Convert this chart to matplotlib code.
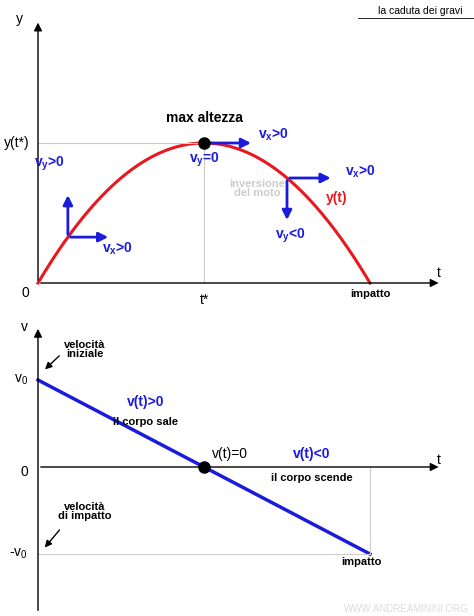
import numpy as np
import matplotlib
matplotlib.use("Agg")
import matplotlib.pyplot as plt
plt.rcParams['font.family'] = ['Liberation Sans', 'DejaVu Sans']
plt.rcParams['mathtext.fontset'] = 'custom'
plt.rcParams['mathtext.rm'] = 'Liberation Sans'
plt.rcParams['mathtext.bf'] = 'Liberation Sans:bold'

W, H = 474, 616
t_peak = 1.0
t_imp = 2.0
y_max = 1.0
v0 = 1.0
t_marks = [0.18, 1.0, 1.5]

fig = plt.figure(figsize=(W/100, H/100), dpi=100)
sx = 2/332
ax1 = fig.add_axes([0, 1-300/H, 1, 300/H])
ax1.set_xlim(-38*sx, (W-38)*sx)
ax1.set_ylim(-(300-283)/140, 283/140)
ax1.axis('off')
ax2 = fig.add_axes([0, 0, 1, 316/H])
ax2.set_xlim(-38*sx, (W-38)*sx)
ax2.set_ylim(-(616-467)/87, (467-300)/87)
ax2.axis('off')

ak = dict(arrowstyle='-|>', color='black', lw=1, mutation_scale=12)
for ax, ytop, ybot in [(ax1, 1.88, 0), (ax2, 1.62, -1.68)]:
    ax.annotate('', xy=(0, ytop), xytext=(0, ybot), arrowprops=ak)
    ax.annotate('', xy=(2.43, 0), xytext=(0, 0), arrowprops=ak)

t = np.linspace(0, t_imp, 200)
y = y_max*(1-((t-t_peak)/t_peak)**2)
ax1.plot(t, y, color='#e8181e', lw=2.2)
ax1.plot([0, t_peak], [y_max]*2, color='#cccccc', lw=0.8)
ax1.plot([t_peak]*2, [0, y_max], color='#cccccc', lw=0.8)
ax1.plot(t_peak, y_max, 'o', color='black', ms=8, zorder=5)

bk = dict(arrowstyle='-|>', color='#1b1bdc', lw=2, mutation_scale=14)
f = lambda tt: y_max*(1-((tt-t_peak)/t_peak)**2)
ta = t_marks[0]; ya = f(ta)
ax1.annotate('', xy=(ta, ya+0.32), xytext=(ta, ya), arrowprops=bk)
ax1.annotate('', xy=(ta+0.26, ya), xytext=(ta, ya), arrowprops=bk)
ax1.annotate('', xy=(t_peak+0.3, y_max), xytext=(t_peak, y_max), arrowprops=bk)
tb = t_marks[2]; yb = f(tb)
ax1.annotate('', xy=(tb+0.28, yb), xytext=(tb, yb), arrowprops=bk)
ax1.annotate('', xy=(tb, yb-0.32), xytext=(tb, yb), arrowprops=bk)

blue = '#1b1bdc'
fs = 10
B = dict(color=blue, fontsize=fs, fontweight='bold', ha='center')
ax1.text(0.07, 0.83, r'v$_\mathbf{y}$>0', **B)
ax1.text(0.48, 0.22, r'v$_\mathbf{x}$>0', **B)
ax1.text(1.0, 0.86, r'v$_\mathbf{y}$=0', **B)
ax1.text(1.42, 1.03, r'v$_\mathbf{x}$>0', **B)
ax1.text(1.94, 0.77, r'v$_\mathbf{x}$>0', **B)
ax1.text(1.52, 0.32, r'v$_\mathbf{y}$<0', **B)
ax1.text(1.8, 0.58, 'y(t)', color='#e8181e', fontsize=fs, fontweight='bold', ha='center')
ax1.text(1.0, 1.15, 'max altezza', fontsize=10, fontweight='bold', ha='center')
ax1.text(1.32, 0.62, 'inversione\ndel moto', color='#cccccc', fontsize=8, fontweight='bold', ha='center', linespacing=0.9)
ax1.text(2.0, -0.1, 'impatto', fontsize=8, fontweight='bold', ha='center')
ax1.text(1.0, -0.15, 't*', fontsize=10, ha='center')
ax1.text(-0.05, -0.1, '0', fontsize=10, ha='right')
ax1.text(-0.205, 1.0, 'y(t*)', fontsize=10, ha='left', va='center')
ax1.text(-0.13, 1.86, 'y', fontsize=10)
ax1.text(2.4, 0.04, 't', fontsize=10)
ax1.text(2.3, 1.92, 'la caduta dei gravi', fontsize=7.5, ha='center')
ax1.plot([1.93, 2.66], [1.895]*2, color='black', lw=0.6)

tv = np.array([0, t_imp])
vv = v0*(1-tv/t_peak)
ax2.plot(tv, vv, color=blue, lw=2.5)
ax2.plot(t_peak, 0, 'o', color='black', ms=8, zorder=5)
ax2.plot([0, 2.0], [-v0]*2, color='#cccccc', lw=0.8)
ax2.plot([2.0]*2, [0, -v0], color='#cccccc', lw=0.8)
ax2.text(-0.06, 1.56, 'v', fontsize=10, ha='right')
ax2.text(2.4, 0.04, 't', fontsize=10)
ax2.text(-0.06, 1.0, r'v$_0$', fontsize=10, ha='right', va='center')
ax2.text(-0.06, -0.1, '0', fontsize=10, ha='right')
ax2.text(-0.06, -1.0, r'-v$_0$', fontsize=10, ha='right', va='center')
ax2.text(1.05, 0.1, 'v(t)=0', fontsize=10)
ax2.text(0.65, 0.7, 'v(t)>0', color=blue, fontsize=10, fontweight='bold', ha='center')
ax2.text(0.65, 0.48, 'il corpo sale', fontsize=8, fontweight='bold', ha='center')
ax2.text(1.65, 0.1, 'v(t)<0', color=blue, fontsize=10, fontweight='bold', ha='center')
ax2.text(1.65, -0.16, 'il corpo scende', fontsize=8, fontweight='bold', ha='center')
ax2.text(1.95, -1.13, 'impatto', fontsize=8, fontweight='bold', ha='center')
ax2.text(0.28, 1.26, 'velocità\niniziale', fontsize=8, fontweight='bold', ha='center', linespacing=0.9)
ax2.text(0.28, -0.6, 'velocità\ndi impatto', fontsize=8, fontweight='bold', ha='center', linespacing=0.9)
ak2 = dict(arrowstyle='-|>', color='black', lw=1, mutation_scale=10)
ax2.annotate('', xy=(0.03, 1.1), xytext=(0.14, 1.3), arrowprops=ak2)
ax2.annotate('', xy=(0.03, -0.95), xytext=(0.14, -0.7), arrowprops=ak2)
ax2.text(2.22, -1.67, 'WWW.ANDREAMININI.ORG', color='#dddddd', fontsize=7, ha='center')

fig.savefig('out.png', dpi=100)
